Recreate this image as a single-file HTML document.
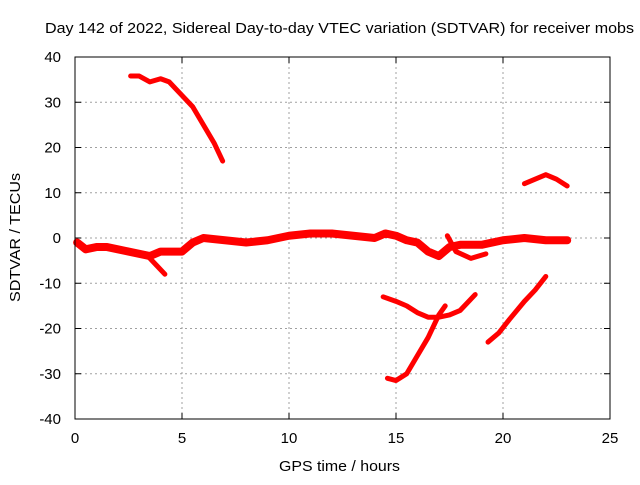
<!DOCTYPE html>
<html><head><meta charset="utf-8"><style>
body{margin:0;background:#fff;}
svg text{font-family:"Liberation Sans",sans-serif;font-size:15px;fill:#000;}
</style></head><body>
<svg width="640" height="480" id="c">
<text x="45" y="33" textLength="589" lengthAdjust="spacingAndGlyphs">Day 142 of 2022, Sidereal Day-to-day VTEC variation (SDTVAR) for receiver mobs</text>
<text x="279" y="471" textLength="121" lengthAdjust="spacingAndGlyphs">GPS time / hours</text>
<text transform="translate(20,302) rotate(-90)" textLength="129" lengthAdjust="spacingAndGlyphs">SDTVAR / TECUs</text>
<g id="grid"></g><g id="marks"></g>
<rect x="75" y="57" width="535" height="362" fill="none" stroke="#000"/>
<g id="ticks"></g>
</svg>
<script>
const xTicks=[0,5,10,15,20,25];
const yTicks=[40,30,20,10,0,-10,-20,-30,-40];
const seriesHigh=[[2.6,35.8],[3.0,35.8],[3.5,34.5],[4.0,35.2],[4.4,34.5],[5.0,31.5],[5.5,29],[6.0,25],[6.5,21],[6.9,17]];
const seriesMain=[[0.1,-1],[0.5,-2.5],[1,-2],[1.5,-2],[2,-2.5],[2.5,-3],[3,-3.5],[3.5,-4],[4,-3],[4.5,-3],[5,-3],[5.5,-1],[6,0],[7,-0.5],[8,-1],[9,-0.5],[10,0.5],[11,1],[12,1],[13,0.5],[14,0],[14.5,1],[15,0.5],[15.5,-0.5],[16,-1],[16.5,-3],[17,-4],[17.5,-2],[18,-1.5],[19,-1.5],[20,-0.5],[21,0],[22,-0.5],[23,-0.5]];
const seriesDip=[[3.3,-3.5],[3.8,-6],[4.2,-8]];
const seriesLoop=[[17.4,0.5],[17.8,-3],[18.5,-4.5],[19.2,-3.5]];
const seriesEve=[[21,12],[21.5,13],[22,14],[22.5,13],[23,11.5]];
const seriesMidNeg=[[14.4,-13],[15,-14],[15.5,-15],[16,-16.5],[16.5,-17.5],[17,-17.5],[17.5,-17],[18,-16],[18.7,-12.5]];
const seriesDeep=[[14.6,-31],[15,-31.5],[15.5,-30],[16,-26],[16.5,-22],[17,-17],[17.3,-15]];
const seriesRise=[[19.3,-23],[19.8,-21],[20.3,-18],[21,-14],[21.5,-11.5],[22,-8.5]];
const allSeries=[seriesHigh,seriesMain,seriesDip,seriesLoop,seriesEve,seriesMidNeg,seriesDeep,seriesRise];
const names=['track-high','track-main','track-dip','track-loop','track-evening','track-mid-negative','track-deep','track-rise'];
const X=h=>75+h*535/25, Y=v=>238-v*362/80;
const NS='http://www.w3.org/2000/svg';
const grid=document.getElementById('grid'),ticks=document.getElementById('ticks'),marks=document.getElementById('marks');
function mk(tag,attrs,parent){const e=document.createElementNS(NS,tag);for(const k in attrs)e.setAttribute(k,attrs[k]);parent.appendChild(e);return e;}
xTicks.forEach(t=>{const x=X(t);
 if(t>0&&t<25){const g=mk('line',{x1:x,x2:x,y1:57,y2:419,stroke:'#a0a0a0','stroke-dasharray':'2,3'},grid);
 
 }
 mk('line',{x1:x,x2:x,y1:419,y2:413,stroke:'#000'},ticks);mk('line',{x1:x,x2:x,y1:57,y2:63,stroke:'#000'},ticks);
 const l=mk('text',{x:x,y:443,'text-anchor':'middle'},ticks);l.textContent=t;
 
 });
yTicks.forEach(t=>{const y=Y(t);
 if(t>-40&&t<40){const g=mk('line',{x1:75,x2:610,y1:y,y2:y,stroke:'#a0a0a0','stroke-dasharray':'2,3'},grid);
 
 }
 mk('line',{x1:75,x2:81,y1:y,y2:y,stroke:'#000'},ticks);mk('line',{x1:610,x2:604,y1:y,y2:y,stroke:'#000'},ticks);
 const l=mk('text',{x:61,y:y+5,'text-anchor':'end'},ticks);l.textContent=t;
 
 });
allSeries.forEach((s,i)=>{const p=mk('polyline',{points:s.map(d=>X(d[0])+','+Y(d[1])).join(' '),fill:'none',stroke:'#f00','stroke-width':i==1?8:5,'stroke-linejoin':'round','stroke-linecap':'round'},marks);
 
 });
</script>
</body></html>
